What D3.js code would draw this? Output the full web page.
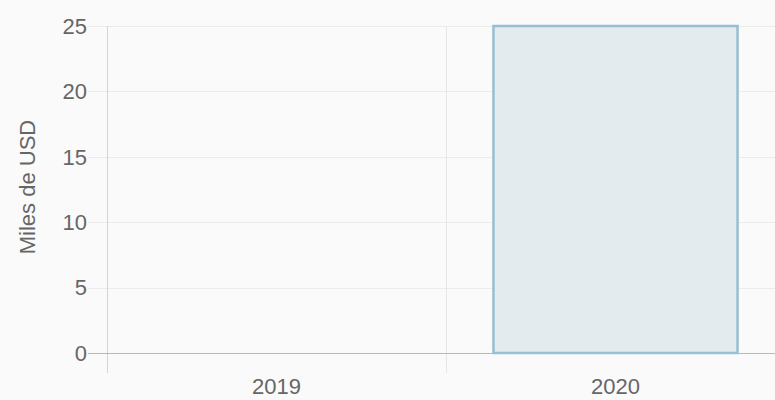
<!DOCTYPE html>
<html>
<head>
<meta charset="utf-8">
<script src="https://cdn.jsdelivr.net/npm/d3@7"></script>
<style>
  html, body { margin: 0; padding: 0; background: #fafafa; }
  svg { display: block; font-family: "Liberation Sans", Arial, sans-serif; }
</style>
</head>
<body>
<svg id="chart" width="775" height="400"></svg>
<script>
// chart data
const years = ["2019", "2020"];
const values = [0, 25];
const yTicks = [0, 5, 10, 15, 20, 25];
const yTitle = "Miles de USD";

const svg = d3.select("#chart");

const plotLeft = 107, plotRight = 785, plotTop = 26, plotBottom = 353;
const fontSize = 22;

const x = d3.scaleBand()
    .domain(years)
    .range([plotLeft, plotRight])
    .padding(0);

const y = d3.scaleLinear()
    .domain([0, 25])
    .range([plotBottom, plotTop]);

// horizontal grid lines
svg.append("g")
    .selectAll("line")
    .data(yTicks)
    .enter()
    .append("line")
    .attr("x1", plotLeft - 19)
    .attr("x2", plotRight)
    .attr("y1", d => Math.round(y(d)) + 0.5)
    .attr("y2", d => Math.round(y(d)) + 0.5)
    .attr("stroke", d => d === 0 ? "#b8b8b8" : "#ececec")
    .attr("stroke-width", 1);

// vertical grid lines at category edges
const edges = years.map(d => x(d));
svg.append("g")
    .selectAll("line")
    .data(edges)
    .enter()
    .append("line")
    .attr("x1", d => Math.round(d) + 0.5)
    .attr("x2", d => Math.round(d) + 0.5)
    .attr("y1", plotTop)
    .attr("y2", plotBottom + 20)
    .attr("stroke", (d, i) => i === 0 ? "#d4d4d4" : "#e6e6e6")
    .attr("stroke-width", 1);

// bars
const barW = x.bandwidth() * 0.72;
svg.append("g")
    .selectAll("rect")
    .data(years.map((d, i) => ({ year: d, value: values[i] })))
    .enter()
    .append("rect")
    .attr("x", d => x(d.year) + (x.bandwidth() - barW) / 2)
    .attr("y", d => y(d.value))
    .attr("width", barW)
    .attr("height", d => plotBottom - y(d.value))
    .attr("fill", d => d.value > 0 ? "#e3ebef" : "none")
    .attr("stroke", d => d.value > 0 ? "#97bfd3" : "none")
    .attr("stroke-width", 2.5);

// redraw zero line above the bars
svg.append("line")
    .attr("x1", plotLeft - 19)
    .attr("x2", plotRight)
    .attr("y1", Math.round(y(0)) + 0.5)
    .attr("y2", Math.round(y(0)) + 0.5)
    .attr("stroke", "#b8b8b8");

// y tick labels
svg.append("g")
    .selectAll("text")
    .data(yTicks)
    .enter()
    .append("text")
    .attr("x", plotLeft - 20)
    .attr("y", d => y(d))
    .attr("dy", "0.35em")
    .attr("text-anchor", "end")
    .attr("font-size", fontSize)
    .attr("fill", "#666")
    .text(d => d);

// x tick labels
svg.append("g")
    .selectAll("text")
    .data(years)
    .enter()
    .append("text")
    .attr("x", d => x(d) + x.bandwidth() / 2)
    .attr("y", 386)
    .attr("dy", "0.35em")
    .attr("text-anchor", "middle")
    .attr("font-size", fontSize)
    .attr("fill", "#666")
    .text(d => d);

// y axis title
svg.append("text")
    .attr("transform", "translate(27,187) rotate(-90)")
    .attr("dy", "0.35em")
    .attr("text-anchor", "middle")
    .attr("font-size", fontSize)
    .attr("fill", "#666")
    .text(yTitle);
</script>
</body>
</html>
